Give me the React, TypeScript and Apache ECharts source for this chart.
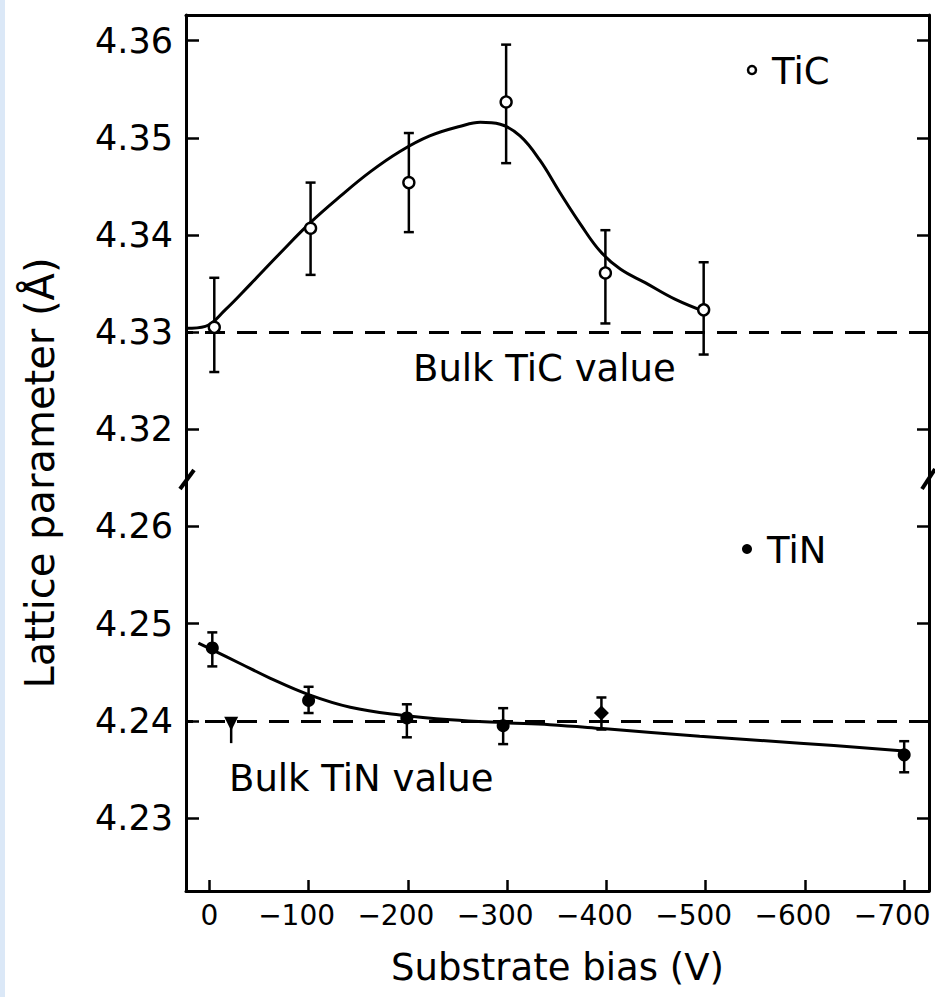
import React, { useEffect, useRef } from "react";
import * as echarts from "echarts";

// Broken axis: TiN values are drawn shifted up by OFFSET so that 4.26 sits just below 4.32
const OFFSET = 0.05;

const yTicksDisp = [4.28, 4.29, 4.3, 4.31, 4.32, 4.33, 4.34, 4.35, 4.36];
const xTicks = [0, -100, -200, -300, -400, -500, -600, -700];

// TiC measured points (open circles)
const ticBias = [-5, -102, -201, -299, -399, -498];
const ticValue = [4.3305, 4.3407, 4.3454, 4.3537, 4.3361, 4.3323];
const ticLow = [4.3259, 4.3359, 4.3403, 4.3474, 4.3309, 4.3277];
const ticHigh = [4.3356, 4.3454, 4.3505, 4.3596, 4.3405, 4.3372];

// TiC fitted curve
const ticCurveBias = [23.5, 4, -16, -41, -71, -102, -132, -162, -192, -222, -253, -273, -293, -313, -333, -353, -374, -394, -414, -439, -469, -502];
const ticCurveValue = [4.3304, 4.3306, 4.3323, 4.3349, 4.3381, 4.3413, 4.344, 4.3465, 4.3486, 4.3502, 4.3512, 4.3516, 4.3514, 4.3502, 4.3477, 4.3444, 4.3411, 4.3383, 4.3365, 4.3351, 4.3334, 4.332];

// TiN measured points (filled)
const tinBias = [-3, -100, -199, -296, -395, -700];
const tinValue = [4.2475, 4.2421, 4.2403, 4.2395, 4.2408, 4.2365];
const tinLow = [4.2456, 4.2408, 4.2383, 4.2376, 4.2391, 4.2347];
const tinHigh = [4.2491, 4.2435, 4.2417, 4.2413, 4.2424, 4.2379];
const tinSymbol = ["circle", "circle", "circle", "circle", "diamond", "circle"];

// extra TiN mark (inverted triangle with stem)
const oddBias = [-22];
const oddValue = [4.2397];
const oddLow = [4.2377];

// TiN fitted curve
const tinCurveBias = [11, -3, -31, -61, -100, -142, -192, -243, -296, -343, -396, -494, -595, -700];
const tinCurveValue = [4.248, 4.2473, 4.2459, 4.2444, 4.2427, 4.2414, 4.2406, 4.2401, 4.2398, 4.2396, 4.2392, 4.2384, 4.2377, 4.2369];

const bulkTiC = 4.3292;
const bulkTiN = 4.2399;

const FONT = "DejaVu Sans";

export default function App() {
  const ref = useRef<HTMLDivElement>(null);

  useEffect(() => {
    if (!ref.current) return;
    const chart = echarts.init(ref.current, undefined, { renderer: "svg" });

    const d = (v: number) => +(v + OFFSET).toFixed(5);

    const errData: any[] = [];
    ticBias.forEach((b, i) => errData.push([b, ticLow[i], ticHigh[i], 1, 1]));
    tinBias.forEach((b, i) => errData.push([b, d(tinLow[i]), d(tinHigh[i]), 1, 1]));
    oddBias.forEach((b, i) => errData.push([b, d(oddLow[i]), d(oddValue[i]), 0, 0]));

    const axisLineStyle = { color: "#000", width: 3 };
    const tickStyle = { color: "#000", width: 2.5 };

    const option: any = {
      animation: false,
      backgroundColor: "#ffffff",
      grid: {
        left: 186,
        right: 6,
        top: 15,
        bottom: 106,
        containLabel: false,
        outerBoundsMode: "none",
        show: false,
      },
      xAxis: [
        {
          type: "value",
          min: -725,
          max: 23.5,
          inverse: true,
          name: "Substrate bias (V)",
          nameLocation: "middle",
          nameGap: 58,
          nameTextStyle: { fontFamily: FONT, fontSize: 37, color: "#000" },
          axisLine: { show: true, onZero: false, lineStyle: axisLineStyle },
          axisTick: {
            show: true,
            inside: true,
            length: 11,
            customValues: xTicks,
            lineStyle: tickStyle,
          },
          axisLabel: {
            show: true,
            customValues: xTicks,
            margin: 10,
            hideOverlap: false,
            formatter: (v: number) => (v === 0 ? "{z|0}" : "{n|\u2212" + Math.abs(v) + "}"),
            rich: {
              z: { fontFamily: FONT, fontSize: 28, color: "#000" },
              n: { fontFamily: FONT, fontSize: 28, color: "#000", padding: [0, 24, 0, 0] },
            },
          },
          splitLine: { show: false },
        },
        {
          type: "value",
          position: "top",
          min: -725,
          max: 23.5,
          inverse: true,
          axisLine: { show: true, onZero: false, lineStyle: axisLineStyle },
          axisTick: { show: false },
          axisLabel: { show: false },
          splitLine: { show: false },
        },
      ],
      yAxis: [
        {
          type: "value",
          min: 4.27248,
          max: 4.36265,
          axisLine: { show: true, onZero: false, lineStyle: axisLineStyle },
          axisTick: {
            show: true,
            inside: true,
            length: 13,
            customValues: yTicksDisp,
            lineStyle: tickStyle,
          },
          axisLabel: {
            show: true,
            customValues: yTicksDisp,
            margin: 13,
            fontFamily: FONT,
            fontSize: 35,
            color: "#000",
            formatter: (v: number) => (v < 4.315 ? v - OFFSET : v).toFixed(2),
          },
          splitLine: { show: false },
        },
        {
          type: "value",
          position: "right",
          min: 4.27248,
          max: 4.36265,
          axisLine: { show: true, onZero: false, lineStyle: axisLineStyle },
          axisTick: {
            show: true,
            inside: true,
            length: 12,
            customValues: yTicksDisp,
            lineStyle: tickStyle,
          },
          axisLabel: { show: false },
          splitLine: { show: false },
        },
      ],
      series: [
        {
          name: "TiC fit",
          type: "line",
          smooth: 0.4,
          showSymbol: false,
          symbol: "none",
          lineStyle: { color: "#000", width: 3 },
          data: ticCurveBias.map((b, i) => [b, ticCurveValue[i]]),
          z: 2,
          markLine: {
            silent: true,
            symbol: "none",
            label: { show: false },
            lineStyle: { color: "#000", width: 3, type: [20, 12] },
            data: [{ yAxis: bulkTiC }, { yAxis: d(bulkTiN) }],
          },
        },
        {
          name: "TiN fit",
          type: "line",
          smooth: 0.4,
          showSymbol: false,
          symbol: "none",
          lineStyle: { color: "#000", width: 3 },
          data: tinCurveBias.map((b, i) => [b, d(tinCurveValue[i])]),
          z: 2,
        },
        {
          name: "error bars",
          type: "custom",
          z: 3,
          data: errData,
          renderItem: (params: any, api: any) => {
            const x = api.value(0);
            const lo = api.coord([x, api.value(1)]);
            const hi = api.coord([x, api.value(2)]);
            const capLo = api.value(3);
            const capHi = api.value(4);
            const w = 5;
            const style = { stroke: "#000", lineWidth: 2.5 };
            const children: any[] = [
              { type: "line", shape: { x1: lo[0], y1: lo[1], x2: hi[0], y2: hi[1] }, style },
            ];
            if (capHi) children.push({ type: "line", shape: { x1: hi[0] - w, y1: hi[1], x2: hi[0] + w, y2: hi[1] }, style });
            if (capLo) children.push({ type: "line", shape: { x1: lo[0] - w, y1: lo[1], x2: lo[0] + w, y2: lo[1] }, style });
            return { type: "group", children };
          },
        },
        {
          name: "TiC",
          type: "scatter",
          symbol: "circle",
          symbolSize: 11,
          itemStyle: { color: "#ffffff", borderColor: "#000", borderWidth: 2.4, opacity: 1 },
          data: ticBias.map((b, i) => [b, ticValue[i]]),
          z: 5,
        },
        {
          name: "TiN",
          type: "scatter",
          symbolSize: 13,
          itemStyle: { color: "#000", opacity: 1 },
          data: tinBias.map((b, i) => ({ value: [b, d(tinValue[i])], symbol: tinSymbol[i], symbolSize: tinSymbol[i] === "diamond" ? 15 : 13 })),
          z: 5,
        },
        {
          name: "TiN extra",
          type: "scatter",
          symbol: "triangle",
          symbolRotate: 180,
          symbolSize: 14,
          itemStyle: { color: "#000", opacity: 1 },
          data: oddBias.map((b, i) => [b, d(oddValue[i])]),
          z: 5,
        },
      ],
      graphic: [
        { type: "rect", shape: { x: 0, y: 0, width: 5, height: 997 }, style: { fill: "#dbe8f7" }, silent: true },
        {
          type: "text",
          x: 40,
          y: 473,
          rotation: Math.PI / 2,
          style: {
            text: "Lattice parameter (Å)",
            fontFamily: FONT,
            fontSize: 40,
            fill: "#000",
            align: "center",
            verticalAlign: "middle",
          },
        },
        { type: "circle", shape: { cx: 752, cy: 70, r: 4 }, style: { fill: "#fff", stroke: "#000", lineWidth: 2.5 } },
        {
          type: "text",
          x: 772,
          y: 71,
          style: { text: "TiC", fontFamily: FONT, fontSize: 37, fill: "#000", align: "left", verticalAlign: "middle" },
        },
        { type: "circle", shape: { cx: 747, cy: 549, r: 5 }, style: { fill: "#000" } },
        {
          type: "text",
          x: 767,
          y: 550,
          style: { text: "TiN", fontFamily: FONT, fontSize: 37, fill: "#000", align: "left", verticalAlign: "middle" },
        },
        {
          type: "text",
          x: 413,
          y: 368,
          style: { text: "Bulk TiC value", fontFamily: FONT, fontSize: 37, fill: "#000", align: "left", verticalAlign: "middle" },
        },
        {
          type: "text",
          x: 229,
          y: 778,
          style: { text: "Bulk TiN value", fontFamily: FONT, fontSize: 37, fill: "#000", align: "left", verticalAlign: "middle" },
        },
        // axis break marks
        { type: "line", shape: { x1: 180, y1: 489, x2: 194, y2: 470 }, style: { stroke: "#000", lineWidth: 4 } },
        { type: "line", shape: { x1: 922, y1: 489, x2: 935, y2: 469 }, style: { stroke: "#000", lineWidth: 4 } },
      ],
    };

    chart.setOption(option);
    return () => chart.dispose();
  }, []);

  return (
    <div
      ref={ref}
      style={{ position: "fixed", left: 0, top: 0, width: 935, height: 997, background: "#fff" }}
    />
  );
}
